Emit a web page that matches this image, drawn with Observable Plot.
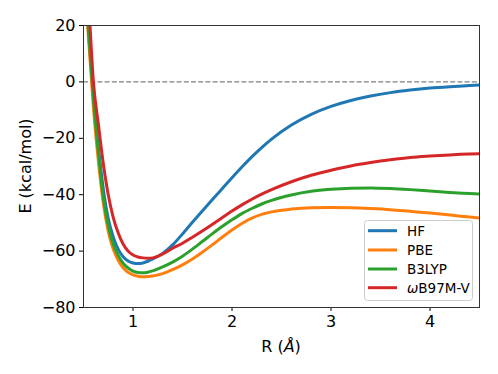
<!DOCTYPE html>
<html><head><meta charset="utf-8">
<script src="https://cdn.jsdelivr.net/npm/d3@7"></script>
<script src="https://cdn.jsdelivr.net/npm/@observablehq/plot@0.6"></script>
<style>
body{margin:0;background:#fff;}
#chart{position:relative;width:498px;height:374px;}
svg{font-family:"DejaVu Sans",sans-serif;}
</style>
</head><body><div id="chart"></div>
<script>
const R = [0.53, 0.55, 0.6, 0.65, 0.7, 0.75, 0.8, 0.85, 0.9, 0.95, 1.0, 1.05, 1.1, 1.15, 1.2, 1.3, 1.4, 1.5, 1.6, 1.7, 1.8, 1.9, 2.0, 2.1, 2.2, 2.3, 2.4, 2.6, 2.8, 3.0, 3.2, 3.4, 3.6, 3.8, 4.0, 4.2, 4.4, 4.5];
const HF = [30, 19, -5, -23, -38, -48.5, -55, -59.3, -62, -63.5, -64.2, -64.4, -64.2, -63.6, -62.8, -60.8, -57.8, -53.9, -49.8, -45.8, -41.8, -37.9, -34.0, -30.2, -26.6, -23.3, -20.3, -15.3, -11.5, -8.7, -6.6, -5.0, -3.8, -2.9, -2.2, -1.7, -1.3, -1.1];
const PBE = [27, 16, -9, -28, -43, -53, -59.3, -63.3, -65.9, -67.5, -68.4, -68.9, -69.1, -69.0, -68.8, -68.0, -66.6, -64.9, -62.8, -60.4, -57.8, -55.1, -52.5, -50.2, -48.3, -47.0, -46.1, -45.1, -44.6, -44.5, -44.6, -44.9, -45.3, -45.9, -46.5, -47.2, -47.9, -48.3];
const B3LYP = [29, 18, -6, -25, -41, -51, -57.5, -61.5, -64.3, -66, -67.1, -67.6, -67.7, -67.5, -67.0, -65.6, -63.9, -61.8, -59.3, -56.6, -53.9, -51.3, -48.9, -46.7, -44.9, -43.3, -42.0, -40.1, -38.8, -38.1, -37.7, -37.6, -37.8, -38.2, -38.7, -39.2, -39.6, -39.8];
const wB97MV = [42, 30, 0, -15, -29, -40, -48, -53.5, -57.5, -60, -61.4, -62.1, -62.4, -62.5, -62.4, -61.0, -59.0, -57.2, -55.1, -52.9, -50.6, -48.2, -45.8, -43.6, -41.6, -39.8, -38.2, -35.4, -33.1, -31.3, -29.8, -28.6, -27.6, -26.8, -26.3, -25.9, -25.6, -25.5];
const methods = ["HF", "PBE", "B3LYP", "ωB97M-V"];
const colors = ["#1f77b4", "#ff7f0e", "#2ca02c", "#d62728"];
const xTicks = [1, 2, 3, 4];
const yTicks = [-80, -60, -40, -20, 0, 20];

const seriesValues = [HF, PBE, B3LYP, wB97MV];
const data = methods.flatMap((m, k) => R.map((r, i) => ({method: m, R: r, E: seriesValues[k][i]})));
const fmt = v => (v < 0 ? "\u2212" + Math.abs(v) : String(v));

const plot = Plot.plot({
  width: 498, height: 374,
  marginLeft: 83, marginRight: 19, marginTop: 25, marginBottom: 67,
  style: {fontSize: "16px", fontFamily: "DejaVu Sans", color: "#000", background: "#fff"},
  x: {domain: [0.5, 4.5], ticks: xTicks, tickSize: 4, tickPadding: 4, label: null, tickFormat: d => String(d)},
  y: {domain: [-80, 20], ticks: yTicks, tickSize: 4, tickPadding: 4, label: null, tickFormat: fmt},
  color: {domain: methods, range: colors},
  marks: [
    Plot.ruleY([0], {stroke: "#808080", strokeWidth: 1.3, strokeDasharray: "5,2.2"}),
    Plot.line(data, {x: "R", y: "E", z: "method", stroke: "method", strokeWidth: 3, curve: "monotone-x", clip: true}),
    Plot.frame({stroke: "#333", strokeWidth: 1})
  ]
});
document.getElementById("chart").appendChild(plot);

const svg = d3.select(plot);
// axis labels
const xl = svg.append("text").attr("x", 281).attr("y", 352).attr("text-anchor", "middle")
  .attr("font-size", 16).attr("fill", "#000");
xl.append("tspan").text("R (");
xl.append("tspan").attr("font-style", "italic").text("Å");
xl.append("tspan").text(")");
svg.append("text").attr("transform", "translate(31,166) rotate(-90)").attr("text-anchor", "middle")
  .attr("font-size", 16).attr("fill", "#000").text("E (kcal/mol)");

// legend
const lg = svg.append("g").attr("text-anchor", "start");
lg.append("rect").attr("x", 364.5).attr("y", 220.5).attr("width", 108).attr("height", 80).attr("rx", 3)
  .attr("fill", "#fff").attr("fill-opacity", 0.8).attr("stroke", "#ccc");
const rows = [230.7, 250, 269, 287.7];
methods.forEach((m, i) => {
  lg.append("line").attr("x1", 368).attr("x2", 397).attr("y1", rows[i]).attr("y2", rows[i])
    .attr("stroke", colors[i]).attr("stroke-width", 3);
  const t = lg.append("text").attr("x", 407).attr("y", rows[i]).attr("dy", "0.36em")
    .attr("text-anchor", "start").attr("font-size", 13.5).attr("fill", "#000");
  if (m.startsWith("ω")) {
    t.append("tspan").attr("font-style", "italic").text("ω");
    t.append("tspan").text(m.slice(1));
  } else t.text(m);
});
</script>
</body></html>
